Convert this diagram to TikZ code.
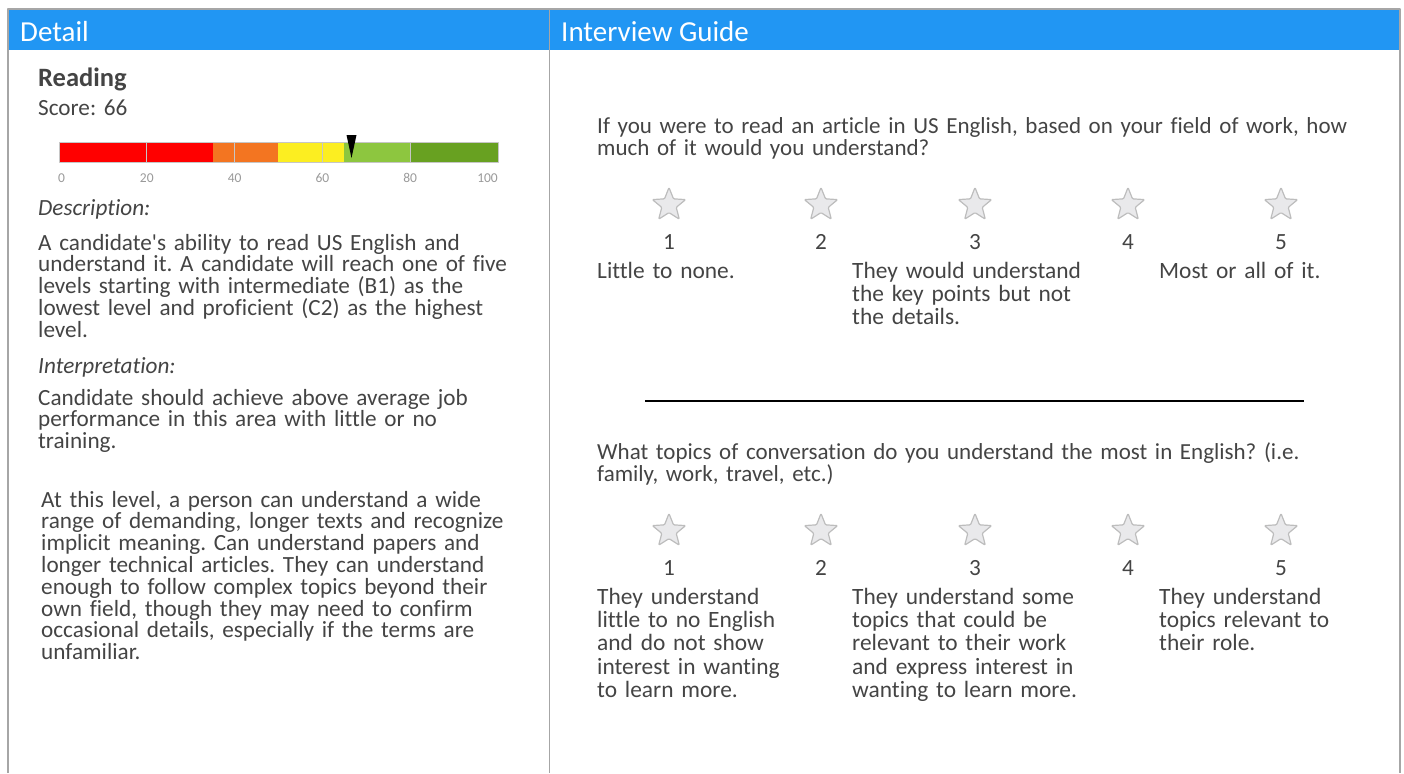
\documentclass[tikz,border=0pt]{standalone}
\usepackage{fontspec}
\setmainfont{Carlito}[Ligatures={TeXOff,NoCommon}]
\usetikzlibrary{shapes.geometric}
\definecolor{hdrblue}{HTML}{2196F3}
\definecolor{txtgray}{HTML}{444444}
\definecolor{rulegray}{HTML}{A6A6A6}
\definecolor{barred}{HTML}{FF0000}
\definecolor{barorange}{HTML}{F37521}
\definecolor{baryellow}{HTML}{FCEE21}
\definecolor{barlgreen}{HTML}{8DC63F}
\definecolor{bardgreen}{HTML}{68A121}
\definecolor{starfill}{HTML}{E9E9EB}
\definecolor{stardraw}{HTML}{BDBDBD}
\frenchspacing
\begin{document}
\begin{tikzpicture}[x=1pt,y=-1pt,line join=round,
	hdr/.style={anchor=base west,inner sep=0pt,text=white,font=\fontsize{29}{29}\selectfont},
	body/.style={anchor=base west,inner sep=0pt,text=txtgray,text width=#1,align=left,font=\fontsize{23.2}{21.8}\selectfont},
	body/.default=480pt,
	guide/.style={body=780pt,font=\fontsize{23}{22}\selectfont},
	answer/.style={body=250pt,font=\fontsize{23.4}{23.4}\selectfont},
	tick/.style={anchor=base,inner sep=0pt,text=gray!80,font=\fontsize{13.5}{13.5}\selectfont},
	starbox/.style={star,star points=5,star point ratio=2.3,minimum size=35pt,inner sep=0pt,
		fill=starfill,draw=stardraw,line width=1.2pt,rounded corners=1pt},
	num/.style={anchor=base,inner sep=0pt,text=txtgray,font=\fontsize{23.2}{23.2}\selectfont}]
	\useasboundingbox (0,0) rectangle (1404,773);
	% frame and headers
	\fill[hdrblue] (8,9) rectangle (1400,50);
	\draw[rulegray,line width=1.6pt] (8,773)--(8,9)--(1400,9)--(1400,773);
	\draw[rulegray,line width=1pt] (549,9)--(549,773);
	\node[hdr] (detail) at (20,42) {Detail};
	\node[hdr] (guide) at (561,42) {Interview Guide};
	% left panel
	\node[body,font=\fontsize{26.5}{26.5}\selectfont\bfseries] (reading) at (38,87) {Reading};
	\node[body] (score) at (38,115.5) {Score: 66};
	\fill[barred] (59,142) rectangle (212.5,162);
	\fill[barorange] (212.5,142) rectangle (278.3,162);
	\fill[baryellow] (278.3,142) rectangle (344.2,162);
	\fill[barlgreen] (344.2,142) rectangle (410,162);
	\fill[bardgreen] (410,142) rectangle (498,162);
	\foreach \v in {20,40,60,80}{
		\draw[gray!45,line width=1pt] ({59+4.39*\v},142)--({59+4.39*\v},162);
		\node[tick] (t\v) at ({59+4.39*\v},182.5) {\v};
	}
	\draw[gray!45,line width=.8pt] (59,142) rectangle (498,162);
	\node[tick,anchor=base west] (t0) at (58,182.5) {0};
	\node[tick,anchor=base east] (t100) at (498,182.5) {100};
	\fill (346.5,135)--(356.5,135)--(351.5,158)--cycle;
	\node[body,font=\fontsize{23.2}{23.2}\selectfont\itshape] (desclbl) at (38,215) {Description:};
	\node[body] (desc) at (38,250) {A candidate's ability to read US English and\\
		understand it. A candidate will reach one of five\\
		levels starting with intermediate (B1) as the\\
		lowest level and proficient (C2) as the highest\\
		level.};
	\node[body,font=\fontsize{23.2}{23.2}\selectfont\itshape] (interplbl) at (38,373) {Interpretation:};
	\node[body] (interp) at (38,405) {Candidate should achieve above average job\\
		performance in this area with little or no\\
		training.};
	\node[body] (level) at (41,507) {At this level, a person can understand a wide\\
		range of demanding, longer texts and recognize\\
		implicit meaning. Can understand papers and\\
		longer technical articles. They can understand\\
		enough to follow complex topics beyond their\\
		own field, though they may need to confirm\\
		occasional details, especially if the terms are\\
		unfamiliar.};
	% right panel
	\node[guide] (qa) at (597,133) {If you were to read an article in US English, based on your field of work, how\\
		much of it would you understand?};
	\foreach \i/\xx in {1/669,2/821,3/975,4/1128,5/1281}{
		\node[starbox] (qa\i) at (\xx,205) {};
		\node[num] (na\i) at (\xx,249) {\i};
	}
	\node[answer] (qa1txt) at (597,278) {Little to none.};
	\node[answer] (qa3txt) at (852,278) {They would understand\\
		the key points but not\\
		the details.};
	\node[answer] (qa5txt) at (1159,278) {Most or all of it.};
	\draw[line width=2pt] (645,401)--(1304,401);
	\node[guide] (qb) at (597,459) {What topics of conversation do you understand the most in English? (i.e.\\
		family, work, travel, etc.)};
	\foreach \i/\xx in {1/669,2/821,3/975,4/1128,5/1281}{
		\node[starbox] (qb\i) at (\xx,531) {};
		\node[num] (nb\i) at (\xx,575) {\i};
	}
	\node[answer] (qb1txt) at (597,604) {They understand\\
		little to no English\\
		and do not show\\
		interest in wanting\\
		to learn more.};
	\node[answer] (qb3txt) at (852,604) {They understand some\\
		topics that could be\\
		relevant to their work\\
		and express interest in\\
		wanting to learn more.};
	\node[answer] (qb5txt) at (1159,604) {They understand\\
		topics relevant to\\
		their role.};
\end{tikzpicture}
\end{document}
